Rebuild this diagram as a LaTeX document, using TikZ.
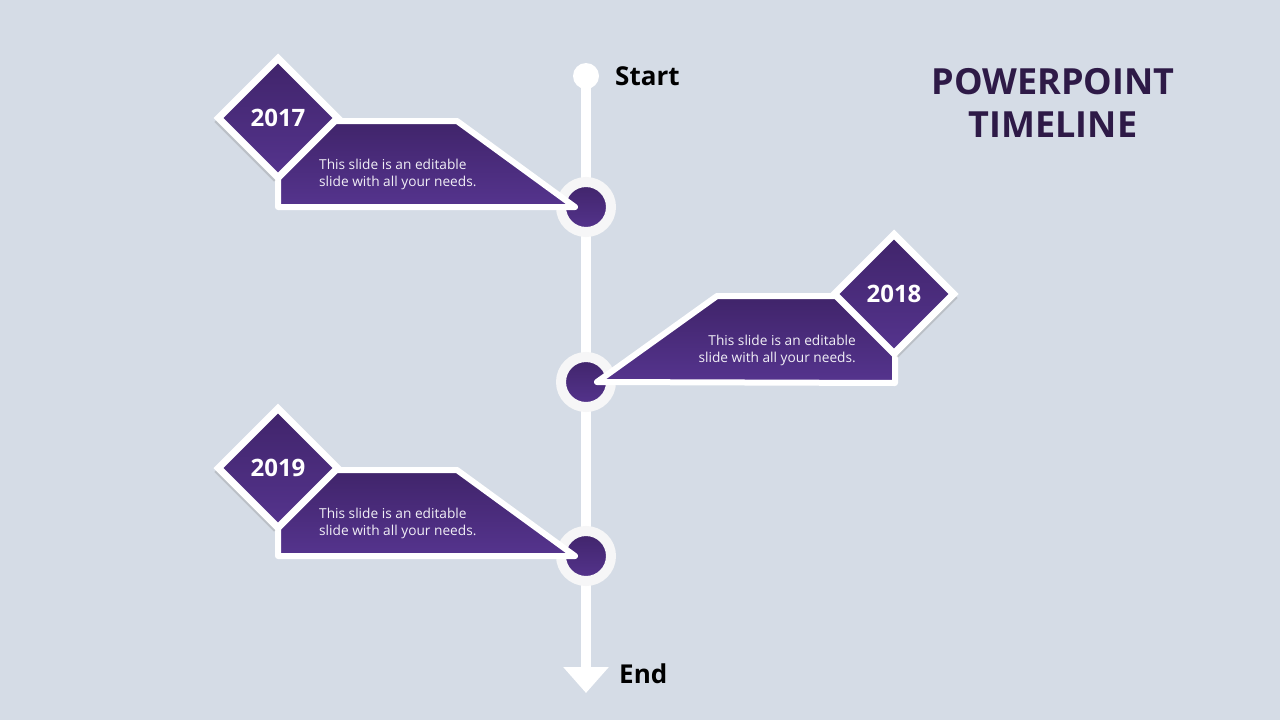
\documentclass[tikz,border=0pt]{standalone}
\usepackage{fontspec}
\setmainfont{Open Sans}
\usetikzlibrary{arrows.meta,shapes.geometric,shadows,positioning}
\definecolor{slidebg}{HTML}{D5DCE6}
\definecolor{violetdark}{HTML}{40246A}
\definecolor{violetlight}{HTML}{55348E}
\definecolor{titleink}{HTML}{2E1A47}
\definecolor{ringwhite}{HTML}{F6F6F7}

\begin{document}
\begin{tikzpicture}[x=1pt,y=-1pt]
\tikzstyle{milestone}=[circle,draw=ringwhite,line width=10pt,minimum size=50pt,inner sep=0pt,top color=violetdark,bottom color=violetlight,drop shadow={opacity=0.12,shadow xshift=1pt,shadow yshift=-2pt}]
\tikzstyle{card}=[draw=white,line width=6pt,line join=round,top color=violetdark,bottom color=violetlight]
\tikzstyle{cardtext}=[text=white!92!violetlight,font=\fontsize{13.7}{17}\selectfont,inner sep=0pt]
\tikzstyle{yearbox}=[diamond,aspect=1,minimum size=122pt,inner sep=0pt,draw=white,line width=7pt,top color=violetdark,bottom color=violetlight,text=white,font=\fontsize{24}{24}\selectfont\bfseries]
\tikzstyle{shadowleft}=[drop shadow={shadow xshift=-4pt,shadow yshift=-4pt,opacity=0.3}]
\tikzstyle{shadowright}=[drop shadow={shadow xshift=4pt,shadow yshift=-4pt,opacity=0.3}]
\tikzstyle{endpoint}=[font=\fontsize{26}{26}\selectfont\bfseries,inner sep=0pt,anchor=base west]

\path[use as bounding box,fill=slidebg] (0,0) rectangle (1280,720);

\node[circle,fill=white,minimum size=26pt,inner sep=0pt] (start) at (586,76) {};
\coordinate (endtip) at (586,693);
\draw[white,line width=10pt,-{Triangle[width=44pt,length=26pt]}] (start.center) -- (endtip);

\node[milestone] (m1) at (586,207) {};
\node[milestone] (m2) at (586,382) {};
\node[milestone] (m3) at (586,556) {};

\draw[card] (278,121) -- (457,121) -- ([xshift=-11pt]m1.center) -- (278,207) -- cycle;
\draw[card] ([xshift=11pt]m2.center) -- (717,296) -- (895,296) -- (895,383) -- cycle;
\draw[card] (278,470) -- (457,470) -- ([xshift=-11pt]m3.center) -- (278,556) -- cycle;

\node[cardtext,anchor=base west,align=left] (t1) at (319,186) {This slide is an editable\\slide with all your needs.};
\node[cardtext,anchor=base east,align=right] (t2) at (856,362) {This slide is an editable\\slide with all your needs.};
\node[cardtext,anchor=base west,align=left] (t3) at (319,535) {This slide is an editable\\slide with all your needs.};

\node[yearbox,shadowleft] (y1) at (278,118) {2017};
\node[yearbox,shadowright] (y2) at (894,294) {2018};
\node[yearbox,shadowleft] (y3) at (278,468) {2019};

\node[endpoint] (startlabel) at (615,85) {Start};
\node[endpoint] (endlabel) at (619,683) {End};

\node[font=\fontsize{36}{43}\selectfont\bfseries,text=titleink,align=center,inner sep=0pt,anchor=base] (title) at (1053,137) {POWERPOINT\\TIMELINE};
\end{tikzpicture}
\end{document}
